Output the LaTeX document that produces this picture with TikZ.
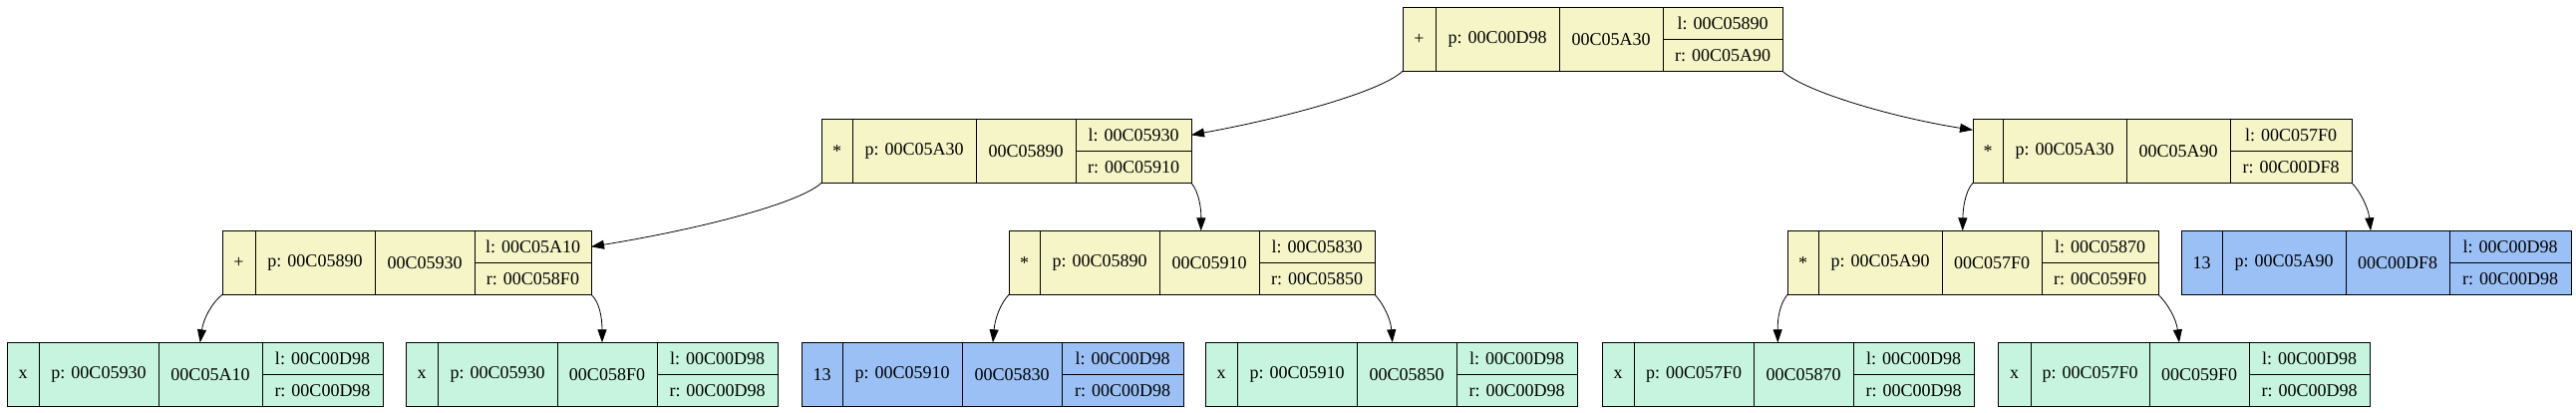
\documentclass[tikz,border=0pt]{standalone}
\usepackage{fontspec}
\setmainfont{Liberation Serif}
\usetikzlibrary{arrows.meta}
\definecolor{yel}{RGB}{245,245,200}
\definecolor{grn}{RGB}{198,244,222}
\definecolor{blu}{RGB}{155,192,245}
\tikzset{
  cell/.style={draw=black,line width=1pt,inner sep=0pt,outer sep=0pt,anchor=north west,
    font=\fontsize{18}{22}\selectfont},
  link/.style={line width=0.8pt,-{Triangle[length=13pt,width=9pt]}}
}
\newcommand\recordbox[8]{%
  \def\rN{#1}\def\rS{#2}\def\rX{#3}\def\rY{#4}%
  \def\rA{#5}\def\rB{#6}\def\rC{#7}\def\rD{#8}\recordtexts}
\newcommand\recordtexts[5]{%
  \node[cell,fill=\rS,minimum width=\rA pt,minimum height=64pt] (\rN-a) at (\rX,\rY) {#1};
  \node[cell,fill=\rS,minimum width=\rB pt,minimum height=64pt] (\rN-b) at (\rN-a.north east) {#2};
  \node[cell,fill=\rS,minimum width=\rC pt,minimum height=64pt] (\rN-c) at (\rN-b.north east) {#3};
  \node[cell,fill=\rS,minimum width=\rD pt,minimum height=32pt] (\rN-l) at (\rN-c.north east) {#4};
  \node[cell,fill=\rS,minimum width=\rD pt,minimum height=32pt] (\rN-r) at (\rN-l.south west) {#5};
}
\begin{document}
\begin{tikzpicture}[x=1pt,y=-1pt]
\useasboundingbox (0,0) rectangle (2584,413);
\fill[white] (0,0) rectangle (2584,413);
% level 1
\recordbox{root}{yel}{1407}{7.3}{33}{124}{104}{120}{+}{p: 00C00D98}{00C05A30}{l: 00C05890}{r: 00C05A90}
% level 2
\recordbox{L2}{yel}{824}{119.3}{31}{124}{100}{116}{*}{p: 00C05A30}{00C05890}{l: 00C05930}{r: 00C05910}
\recordbox{R2}{yel}{1979}{119.3}{30}{124}{104}{122}{*}{p: 00C05A30}{00C05A90}{l: 00C057F0}{r: 00C00DF8}
% level 3
\recordbox{A3}{yel}{223}{231.3}{33}{120}{100}{117}{+}{p: 00C05890}{00C05930}{l: 00C05A10}{r: 00C058F0}
\recordbox{B3}{yel}{1012}{231.3}{31}{120}{100}{116}{*}{p: 00C05890}{00C05910}{l: 00C05830}{r: 00C05850}
\recordbox{C3}{yel}{1793}{231.3}{31}{124}{100}{117}{*}{p: 00C05A90}{00C057F0}{l: 00C05870}{r: 00C059F0}
\recordbox{D3}{blu}{2188}{231.3}{41}{124}{104}{122}{13}{p: 00C05A90}{00C00DF8}{l: 00C00D98}{r: 00C00D98}
% level 4
\recordbox{E4}{grn}{7}{343.3}{32}{120}{104}{121}{x}{p: 00C05930}{00C05A10}{l: 00C00D98}{r: 00C00D98}
\recordbox{F4}{grn}{407}{343.3}{32}{120}{100}{121}{x}{p: 00C05930}{00C058F0}{l: 00C00D98}{r: 00C00D98}
\recordbox{G4}{blu}{804}{343.3}{41}{120}{100}{122}{13}{p: 00C05910}{00C05830}{l: 00C00D98}{r: 00C00D98}
\recordbox{H4}{grn}{1209}{343.3}{32}{120}{100}{121}{x}{p: 00C05910}{00C05850}{l: 00C00D98}{r: 00C00D98}
\recordbox{I4}{grn}{1607}{343.3}{32}{120}{100}{121}{x}{p: 00C057F0}{00C05870}{l: 00C00D98}{r: 00C00D98}
\recordbox{J4}{grn}{2004}{343.3}{33}{119}{100}{121}{x}{p: 00C057F0}{00C059F0}{l: 00C00D98}{r: 00C00D98}
% edges
\draw[link] (root-a.south west) .. controls (1385,92) and (1290,118) .. (L2-l.east);
\draw[link] (root-r.south east) .. controls (1810,92) and (1900,118) .. ([yshift=21pt]R2-a.west);
\draw[link] (L2-a.south west) .. controls (802,204) and (700,230) .. (A3-l.east);
\draw[link] (L2-r.south east) .. controls (1203,193) and (1205,210) .. ([xshift=41.7pt]B3-c.north west);
\draw[link] (R2-a.south west) .. controls (1971,192) and (1969,210) .. ([xshift=20.7pt]C3-c.north west);
\draw[link] (R2-r.south east) .. controls (2368,192) and (2376,210) .. ([xshift=25pt]D3-c.north west);
\draw[link] (A3-a.south west) .. controls (212,304) and (204,320) .. ([xshift=41.7pt]E4-c.north west);
\draw[link] (A3-r.south east) .. controls (601,302) and (604,318) .. ([xshift=45pt]F4-c.north west);
\draw[link] (B3-a.south west) .. controls (1003,305) and (998,320) .. ([xshift=31pt]G4-c.north west);
\draw[link] (B3-r.south east) .. controls (1388,305) and (1395,320) .. ([xshift=35.7pt]H4-c.north west);
\draw[link] (C3-a.south west) .. controls (1785,305) and (1783,320) .. ([xshift=24.3pt]I4-c.north west);
\draw[link] (C3-r.south east) .. controls (2175,305) and (2183,320) .. ([xshift=30pt]J4-c.north west);
\end{tikzpicture}
\end{document}
